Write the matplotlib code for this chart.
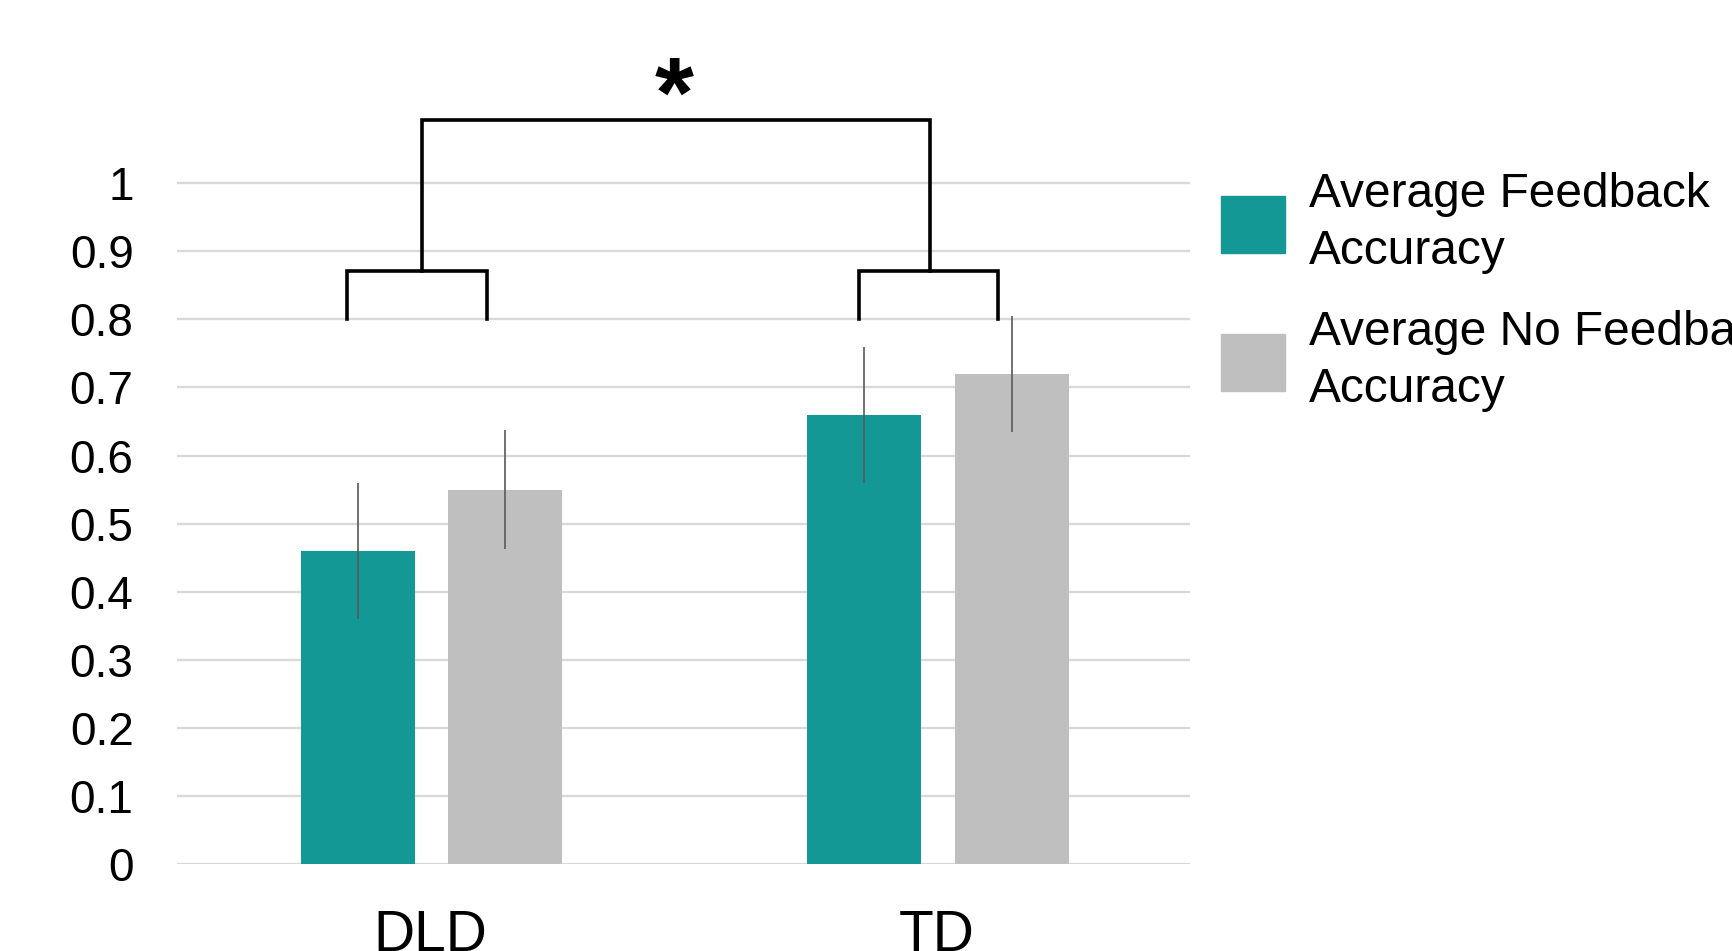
import matplotlib.pyplot as plt
import numpy as np
from matplotlib.patches import Patch


groups = ["DLD", "TD"]
feedback = [0.46, 0.66]
no_feedback = [0.55, 0.72]
feedback_err = [0.10, 0.10]
no_feedback_err = [0.087, 0.085]

series_labels = ["Average Feedback\nAccuracy", "Average No Feedback\nAccuracy"]
y_ticks = [0, 0.1, 0.2, 0.3, 0.4, 0.5, 0.6, 0.7, 0.8, 0.9, 1]
y_tick_labels = ["0", "0.1", "0.2", "0.3", "0.4", "0.5", "0.6", "0.7", "0.8", "0.9", "1"]

TEAL = "#139896"
GREY = "#BFBFBF"
GRID = "#D9D9D9"
ERR = "#595959"


def draw_bracket(ax, x_left, x_right, y_low, y_high, lw=2.6):
    ax.plot([x_left, x_left, x_right, x_right], [y_low, y_high, y_high, y_low],
            color="black", lw=lw, solid_joinstyle="miter", clip_on=False, zorder=5)


def main():
    plt.rcParams["font.family"] = ["Liberation Sans", "DejaVu Sans"]

    fig = plt.figure(figsize=(17.32, 9.51), dpi=100)
    ax = fig.add_axes([0.102, 0.0910, 0.585, 0.909])

    x = np.arange(len(groups))
    width = 0.225
    offset = 0.146

    ax.bar(x - offset + 0.003, feedback, width, color=TEAL, zorder=3,
           yerr=feedback_err, error_kw=dict(ecolor=ERR, elinewidth=1.2, capsize=0, zorder=4))
    ax.bar(x + offset + 0.003, no_feedback, width, color=GREY, zorder=3,
           yerr=no_feedback_err, error_kw=dict(ecolor=ERR, elinewidth=1.2, capsize=0, zorder=4))

    ax.set_xlim(-0.5, 1.5)
    ax.set_ylim(0, 1.2685)
    ax.set_yticks(y_ticks)
    ax.set_yticklabels(y_tick_labels, fontsize=33)
    ax.set_xticks(x)
    ax.set_xticklabels(groups, fontsize=41)
    ax.tick_params(axis="y", length=0, pad=31)
    ax.tick_params(axis="x", length=0, pad=32)

    for tick in y_ticks:
        ax.axhline(tick, color=GRID, lw=1.7, zorder=1)
    for spine in ax.spines.values():
        spine.set_visible(False)

    # significance brackets
    draw_bracket(ax, -0.163, 0.112, 0.80, 0.871)
    draw_bracket(ax, 0.846, 1.122, 0.80, 0.871)
    draw_bracket(ax, -0.015, 0.988, 0.871, 1.092)
    ax.text(0.483, 1.052, "*", fontsize=72, fontweight="bold",
            ha="center", va="bottom", clip_on=False)

    handles = [Patch(color=TEAL), Patch(color=GREY)]
    leg = fig.legend(handles, series_labels, loc="upper left",
                     bbox_to_anchor=(0.7047, 1 - 172 / 951), frameon=False,
                     fontsize=34.5, handlelength=1.34, handleheight=1.47,
                     handletextpad=0.5, labelspacing=0.76,
                     borderpad=0, borderaxespad=0)
    for text in leg.get_texts():
        text.set_linespacing(1.33)

    fig.savefig("out.png", dpi=100)


if __name__ == "__main__":
    main()
